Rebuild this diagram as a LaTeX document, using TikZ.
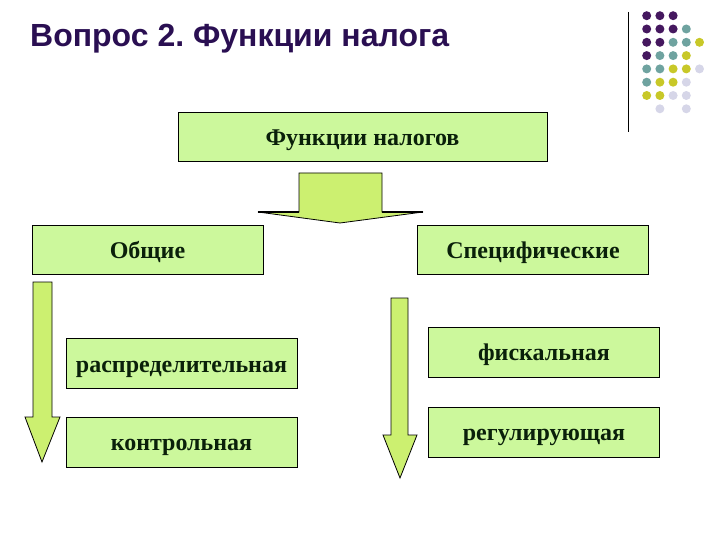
\documentclass[tikz,border=0pt]{standalone}
\usepackage{fontspec}
\setmainfont{Liberation Serif}
\newfontfamily\titlefont{Liberation Sans}
\frenchspacing
\definecolor{boxfill}{HTML}{CCF89C}
\definecolor{arrfill}{HTML}{CCF070}
\definecolor{txtc}{HTML}{0A200A}
\definecolor{titlec}{HTML}{2A0F52}
\definecolor{dpurple}{HTML}{45185F}
\definecolor{dteal}{HTML}{6FA3A0}
\definecolor{dyellow}{HTML}{C8C828}
\definecolor{dlav}{HTML}{D6D6E8}
\tikzset{
  fbox/.style={draw=black, line width=0.9pt, fill=boxfill, minimum width=231pt, minimum height=49pt, inner sep=0pt, text height=19pt, text depth=2pt, font=\fontsize{24}{28}\selectfont\bfseries, text=txtc},
  farrow/.style={draw=black, line width=0.8pt, fill=arrfill},
  dot/.style={circle, inner sep=0pt, minimum size=9pt}
}
\begin{document}
\begin{tikzpicture}[x=1pt,y=-1pt]
\useasboundingbox (0,0) rectangle (720,540);
% title
\node[anchor=west, inner sep=0pt, font=\titlefont\fontsize{32}{36}\selectfont\bfseries, text=titlec] (title) at (30,39) {Вопрос 2. Функции налога};
% decoration
\draw[line width=1pt] (628,12) -- (628,132);
\foreach \c/\r/\col in {0/0/dpurple,1/0/dpurple,2/0/dpurple,
  0/1/dpurple,1/1/dpurple,2/1/dpurple,3/1/dteal,
  0/2/dpurple,1/2/dpurple,2/2/dteal,3/2/dteal,4/2/dyellow,
  0/3/dpurple,1/3/dteal,2/3/dteal,3/3/dyellow,
  0/4/dteal,1/4/dteal,2/4/dyellow,3/4/dyellow,4/4/dlav,
  0/5/dteal,1/5/dyellow,2/5/dyellow,3/5/dlav,
  0/6/dyellow,1/6/dyellow,2/6/dlav,3/6/dlav,
  1/7/dlav,3/7/dlav}
  \node[dot, fill=\col] (d\c\r) at ({646.7+13.2*\c},{15.7+13.3*\r}) {};
% boxes
\node[fbox, minimum width=369pt, minimum height=49pt] (main) at (362.5,137) {Функции налогов};
\node[fbox] (obsh) at (147.5,250) {Общие};
\node[fbox] (spec) at (533,250) {Специфические};
\node[fbox, minimum height=50pt] (raspr) at (181.5,363.5) {распределительная};
\node[fbox, minimum height=50pt] (kontr) at (181.5,442) {контрольная};
\node[fbox, minimum height=50pt] (fisk) at (544,352) {фискальная};
\node[fbox, minimum height=50pt] (regul) at (544,432) {регулирующая};
% big arrow
\draw[farrow, line join=miter] (299,173) -- (382,173) -- (382,212) -- (423,212) -- (340,223) -- (258,212) -- (299,212) -- cycle;
\draw[line width=1.6pt] (258,212) -- (299,212) (382,212) -- (423,212);
% left arrow
\draw[farrow] (33,282) -- (52,282) -- (52,417) -- (60,417) -- (42,462) -- (25,417) -- (33,417) -- cycle;
% right arrow
\draw[farrow] (391,298) -- (408,298) -- (408,435) -- (417,435) -- (400,478) -- (383,435) -- (391,435) -- cycle;
\end{tikzpicture}
\end{document}
